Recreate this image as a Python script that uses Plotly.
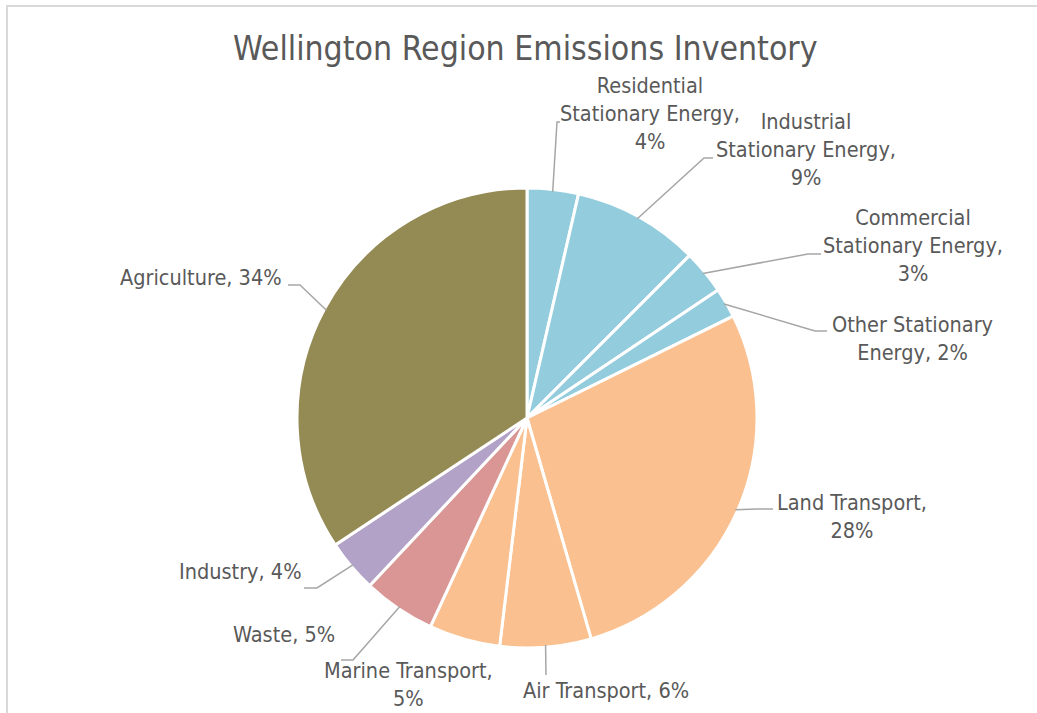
import math
import plotly.graph_objects as go

# data (share of regional emissions, %)
sectors = [
    "Residential Stationary Energy",
    "Industrial Stationary Energy",
    "Commercial Stationary Energy",
    "Other Stationary Energy",
    "Land Transport",
    "Air Transport",
    "Marine Transport",
    "Waste",
    "Industry",
    "Agriculture",
]
shares = [3.6, 8.9, 3.1, 2.1, 27.8, 6.4, 5.0, 5.1, 3.7, 34.3]
colors = ["#93CDDD", "#93CDDD", "#93CDDD", "#93CDDD",
          "#FAC090", "#FAC090", "#FAC090",
          "#D99694", "#B3A2C7", "#948A54"]

# how each label's text is broken into lines
label_lines = [
    ["Residential", "Stationary Energy,", "{p}"],
    ["Industrial", "Stationary Energy,", "{p}"],
    ["Commercial", "Stationary Energy,", "{p}"],
    ["Other Stationary", "Energy, {p}"],
    ["Land Transport,", "{p}"],
    ["Air Transport, {p}"],
    ["Marine Transport,", "{p}"],
    ["Waste, {p}"],
    ["Industry, {p}"],
    ["Agriculture, {p}"],
]

W, H = 1037, 713
CX, CY, R = 527, 418, 230  # pie centre / radius in pixels

# label placement: text centre (px) and leader path (elbow, stub end) in px
label_pos = [
    (650, 113), (806, 150), (913, 245), (912, 338), (852, 516),
    (606, 690), (408, 684), (284, 634), (240, 571), (201, 277),
]
leaders = [
    [(557, 122), (560, 122)],
    [(704, 158), (713, 158)],
    [(808, 254), (821, 254)],
    [(815, 331), (827, 331)],
    [(757, 509), (773, 509)],
    [(546, 675), (546, 675)],
    None,
    [(353, 660), (341, 660)],
    [(317, 588), (304, 588)],
    [(300, 285), (288, 285)],
]

FONT = "Liberation Sans Narrow, DejaVu Sans Condensed, Arial Narrow, sans-serif"
TXT = "#595959"


def px(x, y):
    return x / W, 1 - y / H


fig = go.Figure()

fig.add_trace(
    go.Pie(
        labels=sectors,
        values=shares,
        sort=False,
        direction="clockwise",
        rotation=0,
        marker=dict(colors=colors, line=dict(color="white", width=3)),
        textinfo="none",
        hoverinfo="label+percent",
        showlegend=False,
        domain=dict(x=[(CX - R) / W, (CX + R) / W],
                    y=[1 - (CY + R) / H, 1 - (CY - R) / H]),
    )
)

annotations = []
shapes = []
total = sum(shares)
cum = 0
for i, v in enumerate(shares):
    mid = (cum + v / 2) / total * 2 * math.pi
    cum += v
    pct = f"{v / total * 100:.0f}%"
    text = "<br>".join(l.format(p=pct) for l in label_lines[i])
    tx, ty = label_pos[i]
    ax_, ay_ = px(tx, ty)
    annotations.append(dict(
        x=ax_, y=ay_, xref="paper", yref="paper", text=text, showarrow=False,
        align="center", xanchor="center", yanchor="middle",
        font=dict(family=FONT, size=21.5, color=TXT),
    ))
    if leaders[i]:
        ex = CX + R * 0.99 * math.sin(mid)
        ey = CY - R * 0.99 * math.cos(mid)
        pts = [(ex, ey)] + leaders[i]
        path = "M " + " L ".join(f"{px(a, b)[0]:.5f},{px(a, b)[1]:.5f}" for a, b in pts)
        shapes.append(dict(type="path", path=path, xref="paper", yref="paper",
                           line=dict(color="#A6A6A6", width=1.5)))

# chart border
shapes.append(dict(type="rect", xref="paper", yref="paper",
                   x0=7 / W, x1=1.02, y0=-0.02, y1=1 - 6 / H,
                   line=dict(color="#D9D9D9", width=2)))

annotations.append(dict(
    x=px(525, 48)[0], y=px(525, 48)[1], xref="paper", yref="paper",
    text="Wellington Region Emissions Inventory", showarrow=False,
    xanchor="center", yanchor="middle",
    font=dict(family=FONT, size=33.5, color=TXT),
))

fig.update_layout(
    width=W,
    height=H,
    margin=dict(l=0, r=0, t=0, b=0),
    paper_bgcolor="white",
    plot_bgcolor="white",
    annotations=annotations,
    shapes=shapes,
)

# drop the page's default body margin so the figure sits at the window corner
fig.write_html("out.html", config={"displayModeBar": False},
               post_script="document.body.style.margin='0';")
